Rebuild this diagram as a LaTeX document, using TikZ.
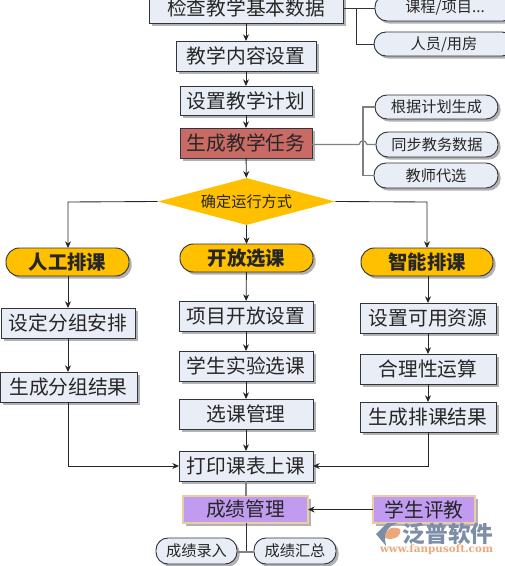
\documentclass[tikz,border=0pt]{standalone}
\usepackage{fontspec}
\setmainfont{Noto Sans CJK SC}
\newfontfamily\urlfont{DejaVu Serif}
\usetikzlibrary{shapes.geometric,shadows,arrows.meta}
\definecolor{boxfill}{HTML}{E9EEF6}
\definecolor{boxline}{HTML}{30343C}
\definecolor{taskred}{HTML}{C96B64}
\definecolor{gold}{HTML}{FFC000}
\definecolor{violet}{HTML}{C19BF0}
\definecolor{tan}{HTML}{E9CDA4}
\definecolor{wmgray}{HTML}{7C8DA8}
\definecolor{wmorange}{HTML}{EDA77C}
\tikzset{
  base/.style={inner sep=0pt,outer sep=0pt,align=center,text=black!85,
    drop shadow={shadow xshift=2pt,shadow yshift=-2pt,fill=black!30,opacity=1}},
  sz/.style n args={2}{minimum width=#1*0.75pt,minimum height=#2*0.75pt},
  bigtext/.style={font=\fontsize{14.8}{18}\selectfont},
  smalltext/.style={font=\fontsize{11.4}{14}\selectfont},
  boxn/.style={base,bigtext,draw=boxline,line width=0.7pt,fill=boxfill},
  taskn/.style={boxn,fill=taskred},
  pilln/.style={base,smalltext,draw=boxline,line width=0.7pt,fill=boxfill,rounded corners=9pt},
  modep/.style={base,font=\fontsize{14.5}{18}\selectfont\bfseries,draw=black!80,line width=0.7pt,fill=gold,rounded corners=10pt},
  gradeb/.style={base,bigtext,draw=tan,line width=1pt,fill=violet},
  flow/.style={draw=black!85,line width=0.65pt,-{Stealth[length=5pt,width=4.5pt]}},
  plainl/.style={draw=black!80,line width=0.65pt},
  greyl/.style={draw=black!50,line width=0.9pt},
}
\begin{document}
\begin{tikzpicture}[x=0.75pt,y=-0.75pt]
\useasboundingbox (0,0) rectangle (505,566);
\clip (0,0) rectangle (505,566);
% centre column
\node[boxn,sz={194}{30}] (check) at (246,8) {检查教学基本数据};
\node[boxn,sz={140}{30}] (content) at (246,56) {教学内容设置};
\node[boxn,sz={132}{29}] (plan) at (246,100.5) {设置教学计划};
\node[taskn,sz={132}{30}] (task) at (246,143) {生成教学任务};
\node[diamond,aspect=3.77,fill=gold,inner sep=0pt,minimum width=177*0.75pt,minimum height=47*0.75pt,
  font=\fontsize{11.4}{14}\selectfont,text=black!85] (decide) at (246.5,201.5) {确定运行方式};
% side pills
\node[pilln,sz={140}{26}] (p1) at (445,8) {课程/项目...};
\node[pilln,sz={140}{24}] (p2) at (444,44) {人员/用房};
\node[pilln,sz={123}{24}] (p3) at (436.5,107) {根据计划生成};
\node[pilln,sz={122}{25}] (p4) at (437,144.5) {同步教务数据};
\node[pilln,sz={124}{25}] (p5) at (436,175.5) {教师代选};
% mode pills
\node[modep,sz={123}{28}] (manual) at (67.5,262) {人工排课};
\node[modep,sz={133}{28}] (open) at (246.5,258) {开放选课};
\node[modep,sz={132}{28}] (smart) at (427,262) {智能排课};
% left column
\node[boxn,sz={134}{30}] (l1) at (68,323) {设定分组安排};
\node[boxn,sz={137}{30}] (l2) at (68.5,387) {生成分组结果};
% middle column
\node[boxn,sz={134}{30}] (m1) at (246,316) {项目开放设置};
\node[boxn,sz={134}{30}] (m2) at (246,366) {学生实验选课};
\node[boxn,sz={134}{30}] (m3) at (246,414) {选课管理};
% right column
\node[boxn,sz={136}{30}] (r1) at (428,318) {设置可用资源};
\node[boxn,sz={136}{30}] (r2) at (428,369) {合理性运算};
\node[boxn,sz={136}{30}] (r3) at (428,417) {生成排课结果};
% bottom
\node[boxn,sz={134}{30}] (print) at (246,466) {打印课表上课};
\node[gradeb,sz={125}{27}] (grade) at (245.5,509.5) {成绩管理};
\node[gradeb,sz={102}{27}] (eval) at (424,509.5) {学生评教};
\node[pilln,sz={81}{26}] (g1) at (196.5,551) {成绩录入};
\node[pilln,sz={82}{26}] (g2) at (295,551) {成绩汇总};
% junctions
\coordinate (jc) at (356,8);
\coordinate (jc2) at (356,44);
\coordinate (jta) at (359,144.5);
\coordinate (jtb) at (367,144.5);
\coordinate (jt1) at (363,107);
\coordinate (jt3) at (363,175.5);
\coordinate (dl) at (68,202);
\coordinate (dr) at (427,202);
\coordinate (lb) at (68,466);
\coordinate (rb) at (428,466);
\coordinate (jg) at (246,552);
% connectors
\draw[flow] (check) -- (content);
\draw[flow] (content) -- (plan);
\draw[flow] (plan) -- (task);
\draw[flow] (task) -- (decide);
\draw[plainl] (check.east) -- (p1.west);
\draw[plainl] (jc) -- (jc2) -- (p2.west);
\draw[greyl] (task.east |- jta) -- (jta) .. controls (360.5,139.5) and (365.5,139.5) .. (jtb) -- (p4.west);
\draw[greyl] (p3.west) -- (jt1) -- (jt3) -- (p5.west);
\draw[flow] (decide.west) -- (dl) -- (manual.north -| dl);
\draw[flow] (decide.east) -- (dr) -- (smart.north -| dr);
\draw[flow] (decide.south) -- (open.north);
\draw[flow] (manual.south -| dl) -- (l1.north -| dl);
\draw[flow] (l1.south -| dl) -- (l2.north -| dl);
\draw[flow] (l2.south -| dl) -- (lb) -- (print.west);
\draw[flow] (open) -- (m1);
\draw[flow] (m1) -- (m2);
\draw[flow] (m2) -- (m3);
\draw[flow] (m3) -- (print);
\draw[flow] (smart.south -| rb) -- (r1.north -| rb);
\draw[flow] (r1) -- (r2);
\draw[flow] (r2) -- (r3);
\draw[flow] (r3.south) -- (rb) -- (print.east);
\draw[greyl] (print.south) -- (grade.north -| print.south);
\draw[flow] (eval.west) -- (grade.east);
\draw[plainl] (grade.south -| jg) -- (jg);
\draw[greyl] (g1.east |- jg) -- (g2.west |- jg);
% watermark
\fill[wmgray] (376,534) -- (387,523) -- (398,523) .. controls (388,526) and (383,532) .. (386,546) -- cycle;
\fill[wmorange] (385,538) .. controls (384,530) and (392,525) .. (400,529) .. controls (402,536) and (394,541) .. (385,538) -- cycle;
\node[inner sep=0pt,text=wmgray,font=\fontsize{17}{20}\selectfont\bfseries] (wm1) at (448,534) {泛普软件};
\node[inner sep=0pt,text=wmorange,font=\urlfont\fontsize{7.8}{9}\selectfont\bfseries] (wm2) at (436.5,550) {www.fanpusoft.com};
\end{tikzpicture}
\end{document}
